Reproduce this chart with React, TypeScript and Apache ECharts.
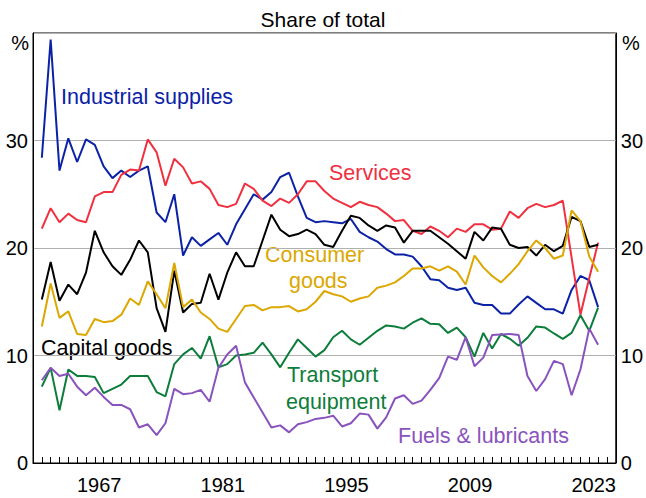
import React, { useEffect, useRef } from "react";
import * as echarts from "echarts";

// Financial years (ending June), plotted at the start of the labelled year
const years = [
  1961, 1962, 1963, 1964, 1965, 1966, 1967, 1968, 1969, 1970, 1971, 1972, 1973, 1974, 1975, 1976,
  1977, 1978, 1979, 1980, 1981, 1982, 1983, 1984, 1985, 1986, 1987, 1988, 1989, 1990, 1991, 1992,
  1993, 1994, 1995, 1996, 1997, 1998, 1999, 2000, 2001, 2002, 2003, 2004, 2005, 2006, 2007, 2008,
  2009, 2010, 2011, 2012, 2013, 2014, 2015, 2016, 2017, 2018, 2019, 2020, 2021, 2022, 2023, 2024,
];

const industrialSupplies = [
  28.4, 39.4, 27.2, 30.2, 28.0, 30.1, 29.6, 27.6, 26.5, 27.2, 26.6, 27.2, 27.6, 23.3, 22.4, 25.0,
  19.3, 21.0, 20.2, 20.8, 21.4, 20.3, 22.2, 23.6, 25.0, 24.5, 25.2, 26.6, 27.0, 24.8, 22.8, 22.4,
  22.5, 22.4, 22.3, 22.7, 21.5, 21.0, 20.6, 19.9, 19.4, 19.4, 19.2, 18.3, 17.1, 17.0, 16.3, 16.1,
  16.3, 14.9, 14.7, 14.7, 13.9, 13.9, 14.75, 15.5, 14.9, 14.3, 14.3, 13.9, 16.1, 17.4, 17.0, 14.5,
];
const services = [
  21.8, 23.7, 22.4, 23.2, 22.6, 22.4, 24.8, 25.2, 25.2, 26.8, 27.3, 27.2, 30.1, 28.9, 25.8, 28.3,
  27.5, 26.0, 26.2, 25.5, 24.0, 23.8, 24.1, 26.0, 25.5, 24.4, 23.9, 24.6, 24.2, 25.0, 26.2, 26.2,
  25.3, 24.6, 24.2, 23.8, 24.3, 24.0, 23.8, 23.2, 22.5, 22.6, 21.6, 21.3, 22.0, 21.6, 21.0, 21.8,
  21.5, 22.2, 22.2, 21.7, 21.8, 23.4, 22.8, 23.7, 24.1, 23.8, 24.0, 24.4, 19.1, 13.8, 17.2, 20.5,
];
const capitalGoods = [
  15.2, 18.7, 15.1, 16.6, 15.7, 17.7, 21.6, 19.6, 18.3, 17.5, 18.9, 20.7, 19.6, 14.4, 12.2, 17.9,
  14.0, 14.8, 14.9, 17.6, 15.2, 17.7, 19.6, 18.3, 18.3, 20.7, 23.1, 21.7, 21.1, 21.3, 21.7, 21.3,
  20.3, 20.1, 21.6, 23.0, 22.8, 22.1, 21.6, 22.1, 21.9, 20.5, 21.6, 21.6, 21.6, 21.0, 20.4, 19.7,
  19.0, 21.5, 20.7, 21.9, 21.8, 20.3, 20.0, 20.1, 19.3, 20.3, 19.7, 20.2, 22.9, 22.5, 20.1, 20.3,
];
const consumerGoods = [
  12.7, 16.7, 13.5, 14.1, 12.0, 11.9, 13.4, 13.1, 13.2, 13.8, 15.3, 14.7, 16.9, 15.7, 14.4, 18.6,
  14.5, 15.2, 14.0, 13.4, 12.5, 12.2, 13.4, 14.6, 14.7, 14.2, 14.5, 14.5, 14.6, 14.1, 14.3, 15.0,
  16.0, 15.7, 15.5, 15.0, 15.3, 15.5, 16.3, 16.5, 16.8, 17.4, 18.1, 18.1, 18.3, 17.9, 18.3, 17.8,
  16.6, 19.3, 18.2, 17.4, 16.8, 17.6, 18.5, 19.7, 20.7, 20.0, 19.0, 19.3, 23.5, 22.5, 19.2, 17.8,
];
const transportEquipment = [
  7.1, 8.85, 4.9, 8.7, 8.1, 8.1, 8.0, 6.5, 6.9, 7.3, 8.1, 8.1, 8.1, 6.6, 6.2, 9.2,
  10.1, 10.7, 9.7, 11.8, 8.9, 9.2, 10.0, 10.1, 10.25, 11.2, 10.1, 8.9, 10.25, 11.5, 10.7, 9.9,
  10.5, 11.7, 12.3, 11.5, 11.0, 11.65, 12.3, 12.8, 12.7, 12.5, 13.05, 13.45, 12.95, 12.9, 12.1, 12.6,
  11.7, 9.9, 12.1, 10.65, 12.0, 11.55, 10.9, 11.65, 12.7, 12.6, 12.05, 11.55, 12.1, 13.75, 12.3, 14.45,
];
const fuelsLubricants = [
  7.7, 8.85, 8.1, 8.3, 7.1, 6.3, 7.0, 6.15, 5.4, 5.4, 5.0, 3.3, 3.6, 2.6, 3.7, 6.9,
  6.4, 6.5, 6.8, 5.7, 8.85, 10.1, 10.9, 7.5, 6.1, 4.7, 3.3, 3.5, 2.85, 3.6, 3.8, 4.1,
  4.2, 4.4, 3.4, 3.7, 4.6, 4.5, 3.2, 4.25, 6.0, 6.3, 5.5, 5.8, 6.8, 7.9, 9.9, 9.6,
  11.7, 9.0, 9.8, 11.9, 11.95, 12.0, 11.9, 8.1, 6.7, 7.8, 9.5, 9.2, 6.3, 8.7, 12.5, 11.0,
];

const xTickLabels = [1967, 1981, 1995, 2009, 2023];
const yTicks = [0, 10, 20, 30, 40];

const FONT = "'Liberation Sans', Arial, Helvetica, sans-serif";

const seriesDefs = [
  { name: "Industrial supplies", data: industrialSupplies, color: "#0b22a6" },
  { name: "Services", data: services, color: "#f0303f" },
  { name: "Capital goods", data: capitalGoods, color: "#000000" },
  { name: "Consumer goods", data: consumerGoods, color: "#dba700" },
  { name: "Transport equipment", data: transportEquipment, color: "#0d7d3b" },
  { name: "Fuels & lubricants", data: fuelsLubricants, color: "#8953bd" },
];

export default function App() {
  const ref = useRef<HTMLDivElement>(null);

  useEffect(() => {
    if (!ref.current) return;
    const chart = echarts.init(ref.current, undefined, { renderer: "svg" });

    const ticks: number[] = [];
    for (let i = 0; i <= years.length; i++) ticks.push(years[0] - 0.5 + i);

    const label = (text: string, x: number, y: number, color: string) => ({
      type: "text",
      left: x,
      top: y,
      style: { text, fill: color, font: `21.5px ${FONT}`, textAlign: "left", textVerticalAlign: "middle" },
    });

    const option: any = {
      animation: false,
      backgroundColor: "#ffffff",
      title: {
        text: "Share of total",
        left: "center",
        top: 4,
        textStyle: { fontFamily: FONT, fontSize: 21, fontWeight: "normal", color: "#000" },
      },
      grid: {
        left: 33,
        right: 28,
        top: 33,
        bottom: 35,
        show: true,
        borderColor: "#000",
        borderWidth: 1,
        backgroundColor: "transparent",
      },
      xAxis: {
        type: "value",
        min: 1959.5,
        max: 2025.5,
        splitLine: { show: false },
        axisLine: { show: true, lineStyle: { color: "#000", width: 1 } },
        axisTick: {
          show: true,
          inside: true,
          length: 6,
          customValues: ticks,
          lineStyle: { color: "#000", width: 1 },
        },
        axisLabel: {
          customValues: xTickLabels,
          formatter: (v: number) => String(Math.round(v)),
          fontFamily: FONT,
          fontSize: 20,
          color: "#000",
          margin: 12,
        },
      },
      yAxis: [
        {
          type: "value",
          min: 0,
          max: 40,
          interval: 10,
          position: "left",
          axisLine: { show: true, lineStyle: { color: "#000" } },
          axisTick: { show: false },
          splitLine: { show: true, lineStyle: { color: "#b0b0b0", width: 1 } },
          axisLabel: {
            customValues: yTicks,
            formatter: (v: number) => (v === 40 ? "" : String(v)),
            fontFamily: FONT,
            fontSize: 20,
            color: "#000",
            margin: 5,
          },
        },
        {
          type: "value",
          min: 0,
          max: 40,
          interval: 10,
          position: "right",
          axisLine: { show: true, lineStyle: { color: "#000" } },
          axisTick: { show: false },
          splitLine: { show: false },
          axisLabel: {
            customValues: yTicks,
            formatter: (v: number) => (v === 40 ? "" : String(v)),
            fontFamily: FONT,
            fontSize: 20,
            color: "#000",
            margin: 5,
          },
        },
      ],
      graphic: [
        {
          type: "text",
          right: 646 - 29,
          top: 33,
          style: { text: "%", fill: "#000", font: `20px ${FONT}`, textAlign: "right" },
        },
        {
          type: "text",
          left: 622,
          top: 33,
          style: { text: "%", fill: "#000", font: `20px ${FONT}`, textAlign: "left" },
        },
        label("Industrial supplies", 61, 86, "#0b22a6"),
        label("Services", 329, 162, "#f0303f"),
        label("Consumer", 265, 244, "#dba700"),
        label("goods", 289, 270, "#dba700"),
        label("Capital goods", 41, 337, "#000000"),
        label("Transport", 287, 364, "#0d7d3b"),
        label("equipment", 286, 391, "#0d7d3b"),
        label("Fuels & lubricants", 398, 425, "#8953bd"),
      ],
      series: seriesDefs.map((s) => ({
        name: s.name,
        type: "line",
        yAxisIndex: 0,
        showSymbol: false,
        symbol: "none",
        lineStyle: { color: s.color, width: 2 },
        data: s.data.map((v, i) => [years[i] - 0.5, v]),
        z: 3,
      })),
    };

    chart.setOption(option);
    return () => chart.dispose();
  }, []);

  return (
    <div
      ref={ref}
      style={{ position: "fixed", left: 0, top: 0, width: 646, height: 498, background: "#fff" }}
    />
  );
}
